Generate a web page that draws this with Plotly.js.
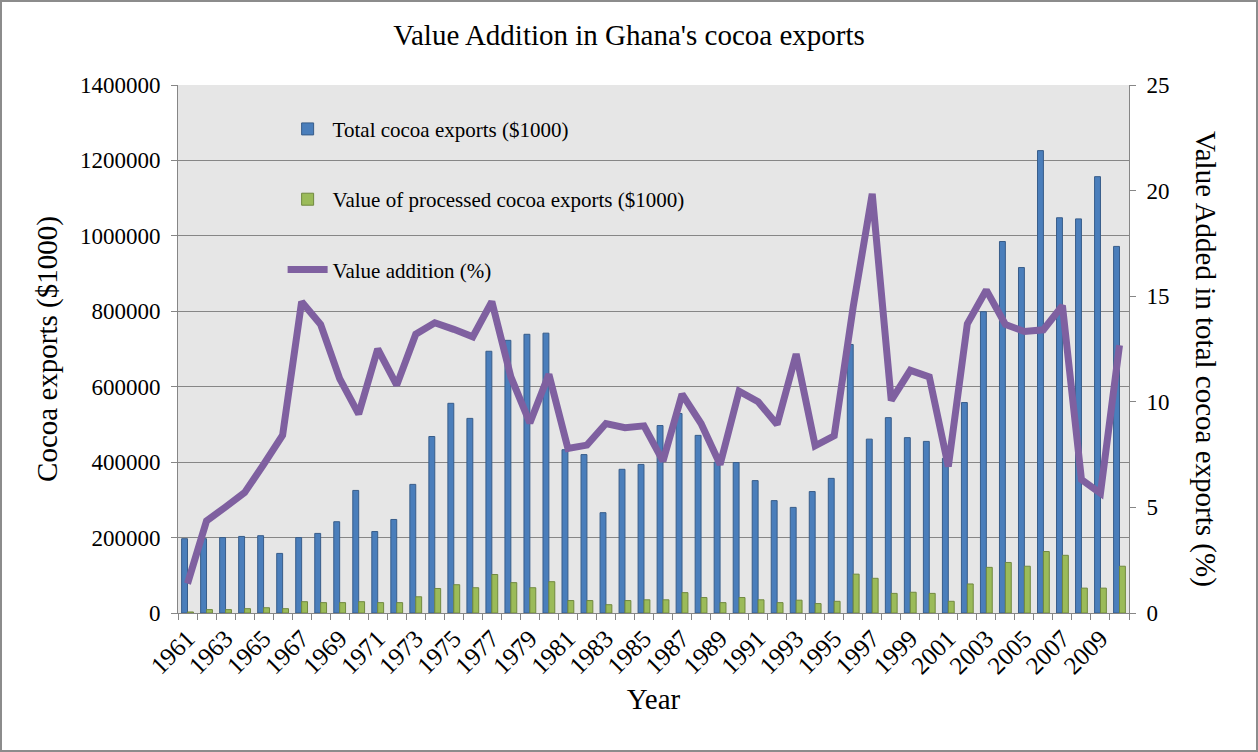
<!DOCTYPE html>
<html>
<head>
<meta charset="utf-8">
<script src="https://cdn.plot.ly/plotly-3.0.1.min.js"></script>
<style>
    body { margin: 0; background: #fff; }
    #chart { width: 1258px; height: 752px; outline: 2px solid #8c8c8c; outline-offset: -2px; }
</style>
</head>
<body>
<div id="chart"></div>
<script>
const years = [1961, 1962, 1963, 1964, 1965, 1966, 1967, 1968, 1969, 1970,
    1971, 1972, 1973, 1974, 1975, 1976, 1977, 1978, 1979, 1980,
    1981, 1982, 1983, 1984, 1985, 1986, 1987, 1988, 1989, 1990,
    1991, 1992, 1993, 1994, 1995, 1996, 1997, 1998, 1999, 2000,
    2001, 2002, 2003, 2004, 2005, 2006, 2007, 2008, 2009, 2010];

const totalExports = [197000, 197000, 200000, 203000, 205000, 158000, 200000, 211000, 242000, 325000,
    216000, 248000, 341000, 468000, 556000, 516000, 694000, 723000, 739000, 742000,
    433000, 420000, 266000, 381000, 394000, 497000, 529000, 471000, 400000, 399000,
    351000, 298000, 280000, 322000, 357000, 712000, 461000, 518000, 465000, 455000,
    410000, 558000, 799000, 985000, 916000, 1226000, 1048000, 1045000, 1157000, 972000];

const processedExports = [2700, 9000, 9000, 11500, 14000, 11500, 30000, 27500, 27500, 30000,
    27500, 27500, 43000, 65000, 75000, 67000, 102000, 80500, 67000, 83000,
    33000, 33000, 22000, 33000, 35000, 35000, 54000, 41000, 27500, 41000,
    35000, 27500, 34000, 25000, 31000, 103000, 92000, 52000, 55000, 52000,
    31000, 77000, 121000, 134000, 124000, 163000, 153000, 66000, 66000, 124000];

const valueAddition = [1.39, 4.36, 5.02, 5.70, 7.03, 8.42, 14.74, 13.66, 11.1, 9.42,
    12.5, 10.79, 13.2, 13.74, 13.43, 13.08, 14.74, 11.18, 9.0, 11.3,
    7.79, 7.95, 8.97, 8.77, 8.86, 7.19, 10.36, 8.97, 7.03, 10.5,
    10.0, 8.93, 12.26, 7.92, 8.39, 14.5, 19.85, 10.07, 11.49, 11.18,
    6.94, 13.69, 15.29, 13.66, 13.33, 13.41, 14.55, 6.32, 5.67, 12.68];

const yearLabels = years.filter((y, i) => i % 2 === 0);

const serif = "Liberation Serif, Times New Roman, serif";
const axisGrey = "#868686";

const traces = [
    {
        x: years, y: totalExports, type: "bar",
        name: "Total cocoa exports ($1000)", legendgroup: "a",
        marker: {color: "#4A7EBB", line: {color: "#385D8A", width: 1}}
    },
    {
        x: years, y: processedExports, type: "bar",
        name: "Value of processed cocoa exports ($1000)", legendgroup: "b",
        marker: {color: "#9BBB59", line: {color: "#71893F", width: 1}}
    },
    {
        x: years, y: valueAddition, type: "scatter", mode: "lines",
        name: "Value addition (%)", legendgroup: "c", yaxis: "y2",
        line: {color: "#7F60A0", width: 7, shape: "linear"}
    }
];

const layout = {
    width: 1258, height: 752,
    margin: {l: 178, r: 129, t: 85, b: 139},
    paper_bgcolor: "rgba(0,0,0,0)",
    plot_bgcolor: "#E6E6E6",
    font: {family: serif, color: "#000", size: 23},
    title: {
        text: "Value Addition in Ghana's cocoa exports",
        font: {family: serif, size: 29},
        x: 0.5, xref: "container", y: 0.954, yref: "container", yanchor: "middle"
    },
    barmode: "group",
    bargap: 0.38,
    bargroupgap: 0,
    showlegend: true,
    legend: {
        x: 0.11, y: 0.955, xanchor: "left", yanchor: "top",
        bgcolor: "rgba(0,0,0,0)",
        font: {family: serif, size: 21},
        tracegroupgap: 40,
        traceorder: "grouped",
        itemwidth: 40
    },
    xaxis: {
        range: [1960.5, 2010.5],
        tickvals: yearLabels,
        ticktext: yearLabels.map(String),
        tickangle: -45,
        ticks: "",
        tickfont: {family: serif, size: 25},
        minor: {tick0: 1960.5, dtick: 1, ticks: "outside", ticklen: 6, tickcolor: axisGrey, showgrid: false},
        showline: true, linecolor: axisGrey, linewidth: 1,
        showgrid: false, zeroline: false,
        title: {text: "Year", font: {family: serif, size: 29}, standoff: 10}
    },
    yaxis: {
        range: [0, 1400000],
        dtick: 200000,
        tickformat: "d",
        ticks: "outside", ticklen: 6, tickcolor: axisGrey,
        ticklabelstandoff: 6,
        showline: true, linecolor: axisGrey, linewidth: 1,
        showgrid: true, gridcolor: axisGrey, gridwidth: 1,
        zeroline: false,
        tickfont: {family: serif, size: 23},
        title: {text: "Cocoa exports ($1000)", font: {family: serif, size: 29}, standoff: 13}
    },
    yaxis2: {
        overlaying: "y", side: "right",
        range: [0, 25],
        dtick: 5,
        ticks: "outside", ticklen: 6, tickcolor: axisGrey,
        ticklabelstandoff: 6,
        showline: true, linecolor: axisGrey, linewidth: 1,
        showgrid: false, zeroline: false,
        tickfont: {family: serif, size: 23}
    },
    annotations: [{
        text: "Value Added in total cocoa exports (%)",
        textangle: 90,
        xref: "paper", yref: "paper",
        x: 1.081, y: 0.481, xanchor: "center", yanchor: "middle",
        showarrow: false,
        font: {family: serif, size: 29}
    }]
};

Plotly.newPlot("chart", traces, layout, {displayModeBar: false});
</script>
</body>
</html>
